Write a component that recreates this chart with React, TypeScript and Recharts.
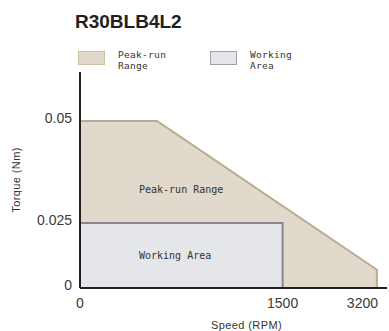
import React from "react";
import {
  AreaChart, Area, XAxis, YAxis, Legend, ReferenceArea, Label
} from "recharts";

// values
const peakSpeed = [0, 570, 3200, 3200];
const peakTorque = [0.05, 0.05, 0.007, 0];
const workSpeed = [0, 1500, 1500];
const workTorque = [0.025, 0.025, 0];
const speedTicks = [0, 1500, 3200];
const torqueTicks = [0, 0.025, 0.05];

// the source axes are schematic (not to scale): breaks and where they sit along the axis
const xBreaks = [0, 1500, 3200, 3300];
const xBreakPos = [0, 0.66, 0.967, 1];
const yBreaks = [0, 0.025, 0.05, 0.0625];
const yBreakPos = [0, 0.301, 0.773, 1];

const peakData = peakSpeed.map((s, i) => ({ speed: s, torque: peakTorque[i] }));
const workData = workSpeed.map((s, i) => ({ speed: s, torque: workTorque[i] }));

const PEAK_FILL = "#e0d9cc";
const PEAK_STROKE = "#b9ab8f";
const WORK_FILL = "#e5e6ea";
const WORK_STROKE = "#87888c";
const AXIS = "#231f20";
const MONO = '"DejaVu Sans Mono", monospace';
const SANS = '"Liberation Sans", Arial, sans-serif';

// piecewise linear scale, d3-style (callable + domain/range/copy)
function brokenScale(stops: number[], pos: number[]) {
  let dom: any[] = [stops[0], stops[stops.length - 1]];
  let rng: number[] = [0, 1];
  const scale: any = (v: number) => {
    let i = 0;
    while (i < stops.length - 2 && v > stops[i + 1]) i++;
    const t = pos[i] + ((v - stops[i]) / (stops[i + 1] - stops[i])) * (pos[i + 1] - pos[i]);
    return rng[0] + t * (rng[1] - rng[0]);
  };
  scale.domain = (d?: any[]) => {
    if (!d) return dom.slice();
    dom = d.slice();
    return scale;
  };
  scale.range = (r?: number[]) => {
    if (!r) return rng.slice();
    rng = r.slice();
    return scale;
  };
  scale.copy = () => brokenScale(stops, pos).domain(dom).range(rng);
  scale.ticks = () => stops.slice();
  return scale;
}

const XTick = (props: any) => {
  const { x, y, payload, index } = props;
  const last = index === speedTicks.length - 1;
  return (
    <text x={x} y={y + 2} dx={last ? 5 : 0} dy="0.71em" textAnchor={last ? "end" : "middle"}
      fontFamily={SANS} fontSize={14} fill="#3a3a3a">
      {payload.value}
    </text>
  );
};

const YTick = (props: any) => {
  const { x, y, payload } = props;
  return (
    <text x={x} y={y - 3} dy="0.355em" textAnchor="end" fontFamily={SANS} fontSize={14} fill="#3a3a3a">
      {payload.value}
    </text>
  );
};

const renderLegend = (props: any) => {
  const items = props.payload || [];
  return (
    <div style={{ display: "flex" }}>
      {items.map((entry: any) => {
        const p = entry.payload || {};
        const words = String(entry.value).split(" ");
        return (
          <div key={entry.value} style={{ display: "flex", width: 132, alignItems: "flex-start" }}>
            <span style={{
              display: "block", width: 25, height: 12, background: p.fill,
              border: `1px solid ${p.stroke === WORK_STROKE ? "#a0a1a5" : "#cdbfa4"}`
            }} />
            <span style={{
              marginLeft: 13, marginTop: -2, fontFamily: MONO, fontSize: 9.5, lineHeight: "11px",
              letterSpacing: 0.3, color: "#333"
            }}>
              {words[0]}<br />{words.slice(1).join(" ")}
            </span>
          </div>
        );
      })}
    </div>
  );
};

const App: React.FC = () => {
  return (
    <div style={{ position: "absolute", left: 0, top: 0, width: 389, height: 331 }}>
      <div style={{
        position: "absolute", left: 75, top: 11, fontFamily: SANS, fontWeight: "bold",
        fontSize: 19, color: "#231f20", lineHeight: "normal", zIndex: 1
      }}>
        R30BLB4L2
      </div>
      <AreaChart width={389} height={331} margin={{ top: 72, right: 2, bottom: 0, left: 0 }}>
        <Legend verticalAlign="middle" align="center" layout="horizontal" content={renderLegend}
          wrapperStyle={{ top: 51, left: 78, width: 300, height: 20 }} />
        <Area data={peakData} dataKey="torque" name="Peak-run Range" type="linear"
          fill={PEAK_FILL} fillOpacity={1} stroke={PEAK_STROKE} strokeWidth={2}
          isAnimationActive={false} dot={false} activeDot={false} />
        <Area data={workData} dataKey="torque" name="Working Area" type="linear"
          fill={WORK_FILL} fillOpacity={1} stroke={WORK_STROKE} strokeWidth={2}
          isAnimationActive={false} dot={false} activeDot={false} />
        <ReferenceArea x1={0} x2={1500} y1={0.025} y2={0.05} fill="none" stroke="none"
          label={{ value: "Peak-run Range", position: "insideLeft", offset: 59, dy: 17,
            fontFamily: MONO, fontSize: 10, fill: "#333" }} />
        <ReferenceArea x1={0} x2={1500} y1={0} y2={0.025} fill="none" stroke="none"
          label={{ value: "Working Area", position: "insideLeft", offset: 59,
            fontFamily: MONO, fontSize: 10, fill: "#333" }} />
        <XAxis type="number" dataKey="speed" domain={[0, 3300]} ticks={speedTicks}
          scale={brokenScale(xBreaks, xBreakPos)} height={43}
          axisLine={{ stroke: AXIS, strokeWidth: 2 }} tickLine={false} tick={<XTick />}>
          <Label value="Speed (RPM)" position="insideBottom" offset={2} dx={13}
            fontFamily={SANS} fontSize={11} letterSpacing={0.4} fill="#333" />
        </XAxis>
        <YAxis type="number" domain={[0, 0.0625]} ticks={torqueTicks}
          scale={brokenScale(yBreaks, yBreakPos)} width={80}
          axisLine={{ stroke: AXIS, strokeWidth: 2 }} tickLine={false} tick={<YTick />}>
          <Label value="Torque (Nm)" position="center" angle={-90} dx={-24}
            fontFamily={SANS} fontSize={11} letterSpacing={0.4} fill="#333" />
        </YAxis>
      </AreaChart>
    </div>
  );
};

export default App;
